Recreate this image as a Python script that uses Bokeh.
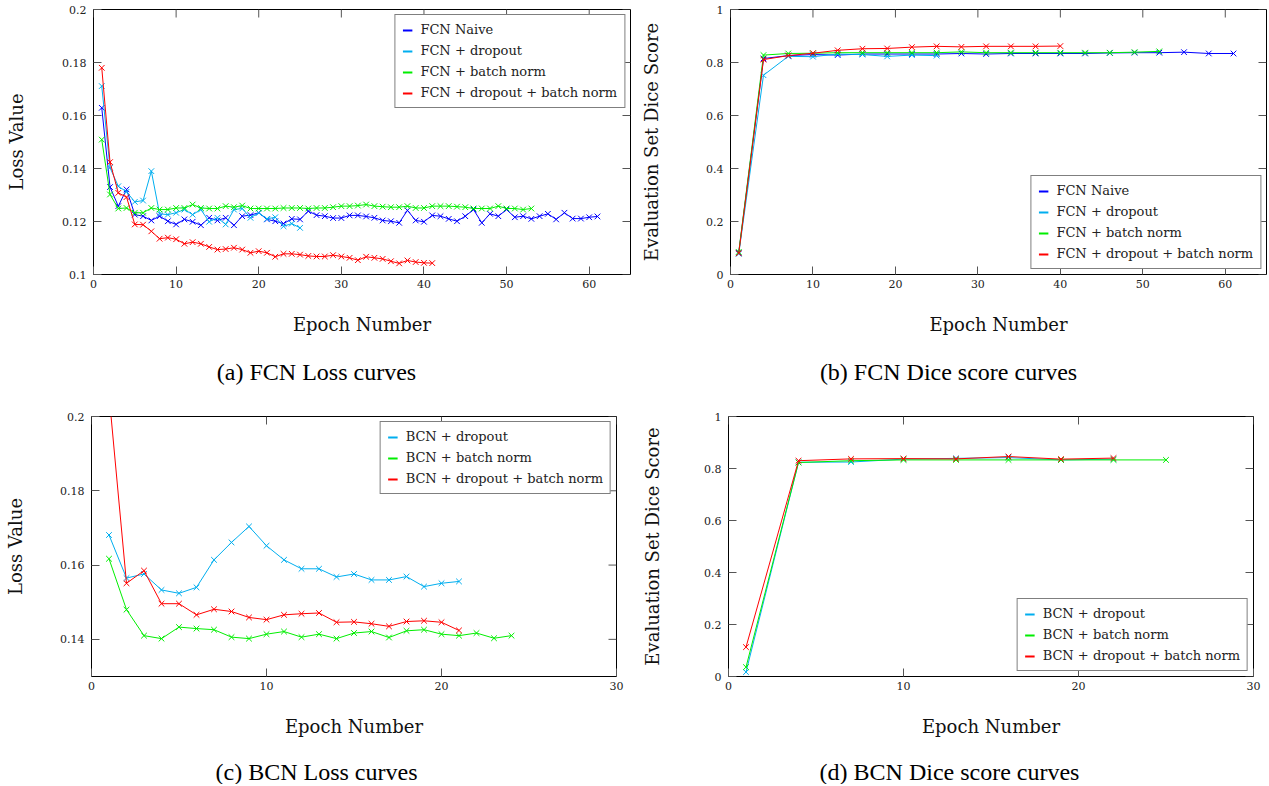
import math
from bokeh.plotting import figure
from bokeh.models import Range1d, FixedTicker, Legend, LegendItem, CustomJSTickFormatter
from bokeh.core.properties import value
from bokeh.layouts import row, column
from bokeh.embed import file_html
from bokeh.resources import INLINE

# ---------------- data ----------------
# (a) FCN loss curves
fcn_loss_ep_naive = list(range(1, 62))
fcn_loss_naive = [0.1629, 0.1330, 0.1258, 0.1321, 0.1226, 0.1220, 0.1204, 0.1220, 0.1201, 0.1189,
                  0.1208, 0.1199, 0.1186, 0.1214, 0.1204, 0.1214, 0.1186, 0.1220, 0.1224, 0.1233,
                  0.1208, 0.1201, 0.1192, 0.1210, 0.1208, 0.1239, 0.1224, 0.1220, 0.1213, 0.1213,
                  0.1223, 0.1223, 0.1219, 0.1214, 0.1204, 0.1201, 0.1195, 0.1242, 0.1204, 0.1199,
                  0.1223, 0.1220, 0.1210, 0.1201, 0.1220, 0.1245, 0.1195, 0.1229, 0.1220, 0.1245,
                  0.1216, 0.1220, 0.1210, 0.1220, 0.1229, 0.1208, 0.1233, 0.1211, 0.1211, 0.1216,
                  0.1219]
fcn_loss_ep_dropout = list(range(1, 26))
fcn_loss_dropout = [0.1711, 0.1403, 0.1333, 0.1312, 0.1274, 0.1279, 0.1390, 0.1229, 0.1226, 0.1233,
                    0.1245, 0.1226, 0.1245, 0.1199, 0.1214, 0.1189, 0.1245, 0.1249, 0.1214, 0.1233,
                    0.1210, 0.1216, 0.1182, 0.1192, 0.1176]
fcn_loss_ep_bn = list(range(1, 54))
fcn_loss_bn = [0.1509, 0.1302, 0.1249, 0.1251, 0.1233, 0.1233, 0.1251, 0.1245, 0.1245, 0.1251,
               0.1251, 0.1264, 0.1251, 0.1249, 0.1249, 0.1258, 0.1254, 0.1260, 0.1249, 0.1249,
               0.1249, 0.1249, 0.1251, 0.1251, 0.1251, 0.1249, 0.1251, 0.1251, 0.1254, 0.1258,
               0.1258, 0.1260, 0.1264, 0.1258, 0.1256, 0.1254, 0.1254, 0.1258, 0.1251, 0.1251,
               0.1258, 0.1258, 0.1258, 0.1256, 0.1254, 0.1249, 0.1249, 0.1249, 0.1258, 0.1249,
               0.1249, 0.1245, 0.1249]
fcn_loss_ep_dobn = list(range(1, 42))
fcn_loss_dobn = [0.1780, 0.1424, 0.1308, 0.1292, 0.1189, 0.1188, 0.1163, 0.1135, 0.1139, 0.1133,
                 0.1116, 0.1122, 0.1116, 0.1104, 0.1094, 0.1096, 0.1101, 0.1094, 0.1082, 0.1088,
                 0.1082, 0.1067, 0.1078, 0.1078, 0.1075, 0.1070, 0.1068, 0.1068, 0.1073, 0.1068,
                 0.1063, 0.1054, 0.1067, 0.1063, 0.1059, 0.1050, 0.1042, 0.1053, 0.1047, 0.1044,
                 0.1043]

# (b) FCN dice score curves
fcn_dice_ep_naive = list(range(1, 62, 3))
fcn_dice_naive = [0.082, 0.815, 0.826, 0.830, 0.828, 0.832, 0.832, 0.832, 0.832, 0.834, 0.832,
                  0.834, 0.834, 0.834, 0.834, 0.836, 0.837, 0.837, 0.839, 0.834, 0.834]
fcn_dice_ep_dropout = list(range(1, 26, 3))
fcn_dice_dropout = [0.078, 0.752, 0.823, 0.822, 0.832, 0.830, 0.823, 0.828, 0.826]
fcn_dice_ep_bn = list(range(1, 53, 3))
fcn_dice_bn = [0.085, 0.828, 0.834, 0.835, 0.837, 0.837, 0.837, 0.837, 0.837, 0.840,
               0.837, 0.837, 0.837, 0.837, 0.837, 0.837, 0.839, 0.842]
fcn_dice_ep_dobn = list(range(1, 41, 3))
fcn_dice_dobn = [0.080, 0.811, 0.826, 0.835, 0.846, 0.852, 0.853, 0.858, 0.861, 0.859,
                 0.861, 0.861, 0.861, 0.862]

# (c) BCN loss curves
bcn_loss_ep_dropout = list(range(1, 22))
bcn_loss_dropout = [0.1681, 0.1565, 0.1576, 0.1533, 0.1524, 0.1540, 0.1614, 0.1661, 0.1704, 0.1652,
                    0.1614, 0.1590, 0.1590, 0.1568, 0.1576, 0.1560, 0.1560, 0.1569, 0.1542, 0.1551,
                    0.1556]
bcn_loss_ep_bn = list(range(1, 25))
bcn_loss_bn = [0.1617, 0.1480, 0.1410, 0.1402, 0.1433, 0.1429, 0.1426, 0.1406, 0.1402, 0.1414,
               0.1421, 0.1406, 0.1414, 0.1402, 0.1417, 0.1421, 0.1405, 0.1423, 0.1426, 0.1414,
               0.1410, 0.1417, 0.1403, 0.1410]
bcn_loss_ep_dobn = list(range(1, 22))
bcn_loss_dobn = [0.2060, 0.1551, 0.1585, 0.1496, 0.1496, 0.1466, 0.1481, 0.1475, 0.1459, 0.1453,
                 0.1466, 0.1469, 0.1471, 0.1446, 0.1447, 0.1442, 0.1435, 0.1448, 0.1450, 0.1446,
                 0.1424]

# (d) BCN dice score curves
bcn_dice_ep_dropout = list(range(1, 23, 3))
bcn_dice_dropout = [0.017, 0.824, 0.825, 0.836, 0.839, 0.842, 0.833, 0.836]
bcn_dice_ep_bn = list(range(1, 26, 3))
bcn_dice_bn = [0.036, 0.823, 0.830, 0.833, 0.833, 0.833, 0.833, 0.833, 0.833]
bcn_dice_ep_dobn = list(range(1, 23, 3))
bcn_dice_dobn = [0.113, 0.830, 0.837, 0.838, 0.837, 0.846, 0.836, 0.840]

# tick values
ticks_x_fcn = [0, 10, 20, 30, 40, 50, 60]
ticks_x_bcn = [0, 10, 20, 30]
ticks_y_fcn_loss = [0.1, 0.12, 0.14, 0.16, 0.18, 0.2]
ticks_y_bcn_loss = [0.14, 0.16, 0.18, 0.2]
ticks_y_dice = [0, 0.2, 0.4, 0.6, 0.8, 1]

captions = ["(a) FCN Loss curves", "(b) FCN Dice score curves",
            "(c) BCN Loss curves", "(d) BCN Dice score curves"]

# ---------------- style ----------------
BLUE = "#0000ff"
CYAN = "#00aeef"
GREEN = "#00ee00"
RED = "#ff0000"
SERIF = "DejaVu Serif"
CAPFONT = "Liberation Serif"
TICKC = "#555555"
TICKLEN = 8
NAN = float("nan")


def fmt():
    return CustomJSTickFormatter(code="return String(parseFloat(tick.toFixed(4)));")


def make_panel(width, height, xr, yr, xticks, yticks, borders, ylabel, ylab_standoff,
               series, legend_loc):
    l, r, t, b = borders
    p = figure(width=width, height=height, x_range=Range1d(*xr), y_range=Range1d(*yr),
               output_backend="svg", toolbar_location=None,
               min_border_left=l, min_border_right=r, min_border_top=t, min_border_bottom=b)
    p.grid.visible = False
    p.outline_line_color = "black"
    p.outline_line_width = 1
    p.outline_line_alpha = 1
    p.background_fill_color = "white"
    p.border_fill_color = "white"

    for ax, tk in ((p.xaxis[0], xticks), (p.yaxis[0], yticks)):
        ax.ticker = FixedTicker(ticks=tk)
        ax.formatter = fmt()
        ax.axis_line_color = None
        ax.major_tick_in = TICKLEN
        ax.major_tick_out = 0
        ax.major_tick_line_color = TICKC
        ax.minor_tick_line_color = None
        ax.major_label_text_font = SERIF
        ax.major_label_text_font_size = "11px"
        ax.major_label_text_color = "#222222"
        ax.axis_label_text_font = SERIF
        ax.axis_label_text_font_size = "18px"
        ax.axis_label_text_font_style = "normal"
        ax.axis_label_text_color = "#111111"

    p.xaxis.major_label_standoff = 5
    p.xaxis.axis_label = "Epoch Number"
    p.xaxis.axis_label_standoff = 23
    p.yaxis.major_label_standoff = 7
    p.yaxis.axis_label = ylabel
    p.yaxis.axis_label_standoff = ylab_standoff

    # mirrored inward ticks on the top and right frame edges
    p.ray(x=xticks, y=[yr[1]] * len(xticks), length=TICKLEN, length_units="screen",
          angle=-math.pi / 2, line_color=TICKC, line_width=1)
    p.ray(x=[xr[1]] * len(yticks), y=yticks, length=TICKLEN, length_units="screen",
          angle=math.pi, line_color=TICKC, line_width=1)

    items = []
    for label, xs, ys, color in series:
        p.line(xs, ys, line_color=color, line_width=1)
        p.scatter(xs, ys, marker="x", size=8, line_color=color, line_width=1)
        key = p.line([NAN], [NAN], line_color=color, line_width=2)
        items.append(LegendItem(label=label, renderers=[key]))

    leg = Legend(items=items, location=legend_loc)
    leg.margin = 5
    leg.padding = 7
    leg.spacing = 6
    leg.glyph_width = 10
    leg.glyph_height = 14
    leg.label_height = 14
    leg.label_standoff = 8
    leg.label_text_font = SERIF
    leg.label_text_font_size = "13px"
    leg.label_text_color = "#222222"
    leg.border_line_color = "black"
    leg.border_line_width = 1
    leg.background_fill_alpha = 1
    p.add_layout(leg)
    return p


def caption_strip(width, height, text, cx, cy):
    s = figure(width=width, height=height, x_range=Range1d(0, width), y_range=Range1d(0, height),
               output_backend="svg", toolbar_location=None, x_axis_location=None,
               y_axis_location=None, min_border=0)
    s.grid.visible = False
    s.outline_line_color = None
    s.border_fill_color = "white"
    s.text(x=[cx], y=[cy], text=[text], text_font=value(CAPFONT), text_font_size=value("24px"),
           text_align="center", text_baseline="middle", text_color="black")
    return s


fa = make_panel(637, 344, (0, 65), (0.1, 0.2), ticks_x_fcn, ticks_y_fcn_loss,
                (93, 7, 9, 70), "Loss Value", 32,
                [("FCN Naive", fcn_loss_ep_naive, fcn_loss_naive, BLUE),
                 ("FCN + dropout", fcn_loss_ep_dropout, fcn_loss_dropout, CYAN),
                 ("FCN + batch norm", fcn_loss_ep_bn, fcn_loss_bn, GREEN),
                 ("FCN + dropout + batch norm", fcn_loss_ep_dobn, fcn_loss_dobn, RED)],
                "top_right")

fb = make_panel(632, 344, (0, 65), (0, 1), ticks_x_fcn, ticks_y_dice,
                (93, 3, 9, 70), "Evaluation Set Dice Score", 41,
                [("FCN Naive", fcn_dice_ep_naive, fcn_dice_naive, BLUE),
                 ("FCN + dropout", fcn_dice_ep_dropout, fcn_dice_dropout, CYAN),
                 ("FCN + batch norm", fcn_dice_ep_bn, fcn_dice_bn, GREEN),
                 ("FCN + dropout + batch norm", fcn_dice_ep_dobn, fcn_dice_dobn, RED)],
                "bottom_right")

fc = make_panel(636, 339, (0, 30), (0.13, 0.2), ticks_x_bcn, ticks_y_bcn_loss,
                (91, 20, 9, 70), "Loss Value", 31,
                [("BCN + dropout", bcn_loss_ep_dropout, bcn_loss_dropout, CYAN),
                 ("BCN + batch norm", bcn_loss_ep_bn, bcn_loss_bn, GREEN),
                 ("BCN + dropout + batch norm", bcn_loss_ep_dobn, bcn_loss_dobn, RED)],
                "top_right")

fd = make_panel(633, 339, (0, 30), (0, 1), ticks_x_bcn, ticks_y_dice,
                (92, 16, 9, 70), "Evaluation Set Dice Score", 38,
                [("BCN + dropout", bcn_dice_ep_dropout, bcn_dice_dropout, CYAN),
                 ("BCN + batch norm", bcn_dice_ep_bn, bcn_dice_bn, GREEN),
                 ("BCN + dropout + batch norm", bcn_dice_ep_dobn, bcn_dice_dobn, RED)],
                "bottom_right")

ca = caption_strip(637, 63, captions[0], 316, 36)
cb = caption_strip(632, 63, captions[1], 311, 36)
cc = caption_strip(636, 38, captions[2], 316, 13)
cd = caption_strip(633, 38, captions[3], 313, 13)

layout = column(row(fa, fb), row(ca, cb), row(fc, fd), row(cc, cd))

open("out.html", "w").write(file_html(layout, INLINE))
